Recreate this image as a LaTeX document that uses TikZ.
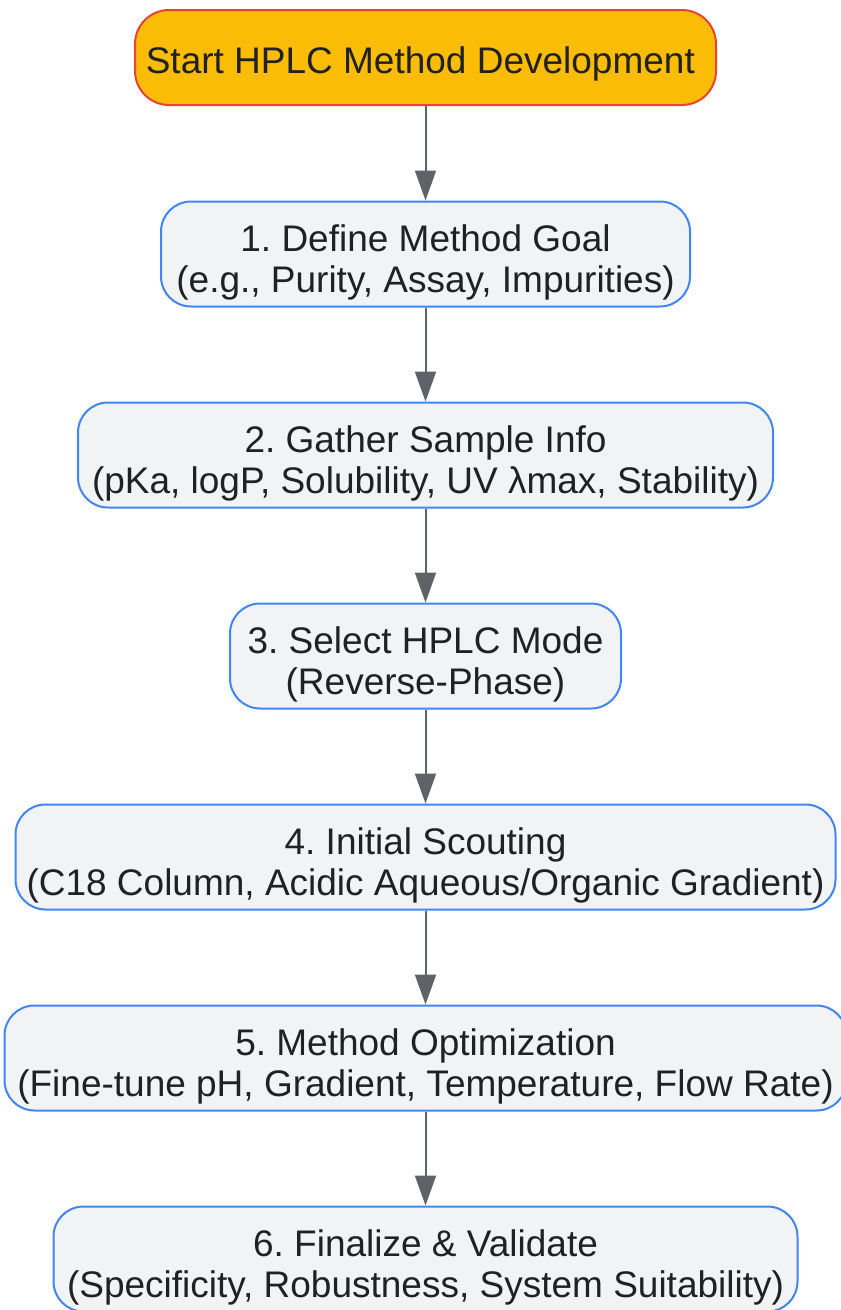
\documentclass[tikz,border=0pt]{standalone}
\usepackage{fontspec}
\setmainfont{Liberation Sans}
\frenchspacing
\usetikzlibrary{positioning, arrows.meta}
\definecolor{startfill}{RGB}{251,188,5}
\definecolor{startline}{RGB}{234,67,53}
\definecolor{stepfill}{RGB}{241,243,244}
\definecolor{stepline}{RGB}{66,133,244}
\definecolor{arrowgray}{RGB}{95,99,104}
\definecolor{textdark}{RGB}{32,33,36}
\tikzstyle{startstop} = [
  rectangle, rounded corners=34pt,
  minimum height=95pt,
  text centered, align=center, text=textdark,
  draw=startline, fill=startfill, line width=2pt,
  execute at begin node={\rule{0pt}{40pt}}
]
\tikzstyle{process} = [
  rectangle, rounded corners=30pt,
  minimum height=105pt,
  text centered, align=center, text=textdark,
  draw=stepline, fill=stepfill, line width=2pt,
  execute at begin node={\rule{0pt}{85pt}}
]
\tikzset{
  arrow/.style={
    line width=2pt, draw=arrowgray,
    -{Triangle[length=30pt,width=21pt,fill=arrowgray]}
  }
}

\begin{document}
\begin{tikzpicture}[
  x=1pt, y=1pt,
  font=\fontsize{37}{41}\selectfont,
  node distance=94pt
]
\useasboundingbox (0,0) rectangle (841,-1310);

% ------------------------------------------------
% INICIO
% ------------------------------------------------
\node[startstop, minimum width=581pt] (start) at (425.5,-57.5) {%
  Start HPLC Method Development
};

% ------------------------------------------------
% PASOS 1-6 (columna central)
% ------------------------------------------------

% s1: objetivo del método
\node[process, minimum width=529pt, below=94.5pt of start] (s1) {%
  1. Define Method Goal\\
  (e.g., Purity, Assay, Impurities)
};

% s2: información de la muestra
\node[process, minimum width=695pt, below=of s1] (s2) {%
  2. Gather Sample Info\\
  (pKa, logP, Solubility, UV λmax, Stability)
};

% s3: modo HPLC
\node[process, minimum width=391pt, below=of s2] (s3) {%
  3. Select HPLC Mode\\
  (Reverse-Phase)
};

% s4: exploración inicial
\node[process, minimum width=820pt, below=of s3] (s4) {%
  4. Initial Scouting\\
  (C18 Column, Acidic Aqueous/Organic Gradient)
};

% s5: optimización
\node[process, minimum width=842pt, below=of s4] (s5) {%
  5. Method Optimization\\
  (Fine-tune pH, Gradient, Temperature, Flow Rate)
};

% s6: validación
\node[process, minimum width=744pt, below=of s5] (s6) {%
  6. Finalize \& Validate\\
  (Specificity, Robustness, System Suitability)
};

% ------------------------------------------------
% FLECHAS
% ------------------------------------------------
\draw[arrow] (start) -- (s1);
\draw[arrow] (s1) -- (s2);
\draw[arrow] (s2) -- (s3);
\draw[arrow] (s3) -- (s4);
\draw[arrow] (s4) -- (s5);
\draw[arrow] (s5) -- (s6);

\end{tikzpicture}
\end{document}
